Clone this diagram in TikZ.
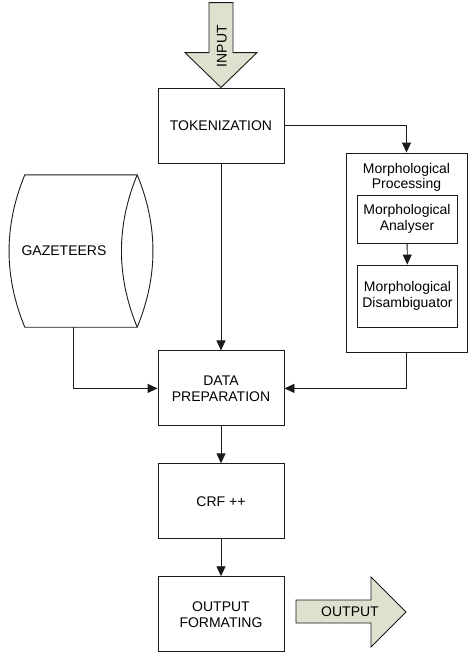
\documentclass[tikz,border=0pt]{standalone}
\usepackage{fontspec}
\setmainfont{Liberation Sans}
\usetikzlibrary{arrows.meta,positioning}
\definecolor{ink}{HTML}{1A1A1A}
\definecolor{sage}{HTML}{DDE1CD}
\tikzset{
  txt/.style={font=\fontsize{14pt}{16pt}\selectfont, align=center},
  box/.style={txt, draw=ink, fill=white, line width=0.9pt, minimum width=126pt,
              minimum height=75pt, inner sep=2pt},
  sub/.style={box, minimum width=100pt, minimum height=48pt},
  arr/.style={-{Triangle[length=10pt,width=9pt]}, line width=0.9pt, ink},
  fatarrow/.style={draw=ink, fill=sage, line width=0.9pt, line join=miter}
}
\begin{document}
\begin{tikzpicture}[x=1pt, y=-1pt, node distance=37pt]
  \useasboundingbox (0,0) rectangle (468,654);
  % main column
  \node[box] (tok) at (221,125.5) {TOKENIZATION};
  \node[box, below=187pt of tok] (prep) {DATA\\PREPARATION};
  \node[box, below=of prep] (crf) {CRF ++};
  \node[box, below=of crf] (fmt) {OUTPUT\\FORMATING};
  % morphology block
  \node[box, minimum width=121pt, minimum height=199pt,
        label={[name=morphtxt, txt, font=\fontsize{14pt}{15pt}\selectfont, anchor=north,
                inner sep=2pt, yshift=-9pt]north:Morphological\\Processing}]
        (morph) at (406.5,252.5) {};
  \node[sub] (ana) at (407,219) {Morphological\\Analyser};
  \node[sub, minimum height=62pt] (dis) at (407.5,296) {Morphological\\Disambiguator};
  % gazetteer store
  \node[minimum width=112pt, minimum height=152pt, inner sep=0pt] (gaz) at (81,251) {};
  \draw[ink, line width=0.9pt, fill=white] (gaz.north west)
    .. controls +(-21,51) and +(-21,-51) .. (gaz.south west) -- (gaz.south east)
    .. controls +(21,-51) and +(21,51) .. (gaz.north east) -- cycle;
  \draw[ink, line width=0.9pt] (gaz.north east)
    .. controls +(-21,51) and +(-21,-51) .. (gaz.south east);
  \node[txt] (gaztxt) at ([xshift=-17pt]gaz.center) {GAZETEERS};
  % in / out
  \draw[fatarrow] (tok.north) -- ++(36,-35) -- ++(-24,0) -- ++(0,-50) -- ++(-24,0)
    -- ++(0,50) -- ++(-24,0) -- cycle;
  \node[txt, rotate=90] (input) at (222,46) {INPUT};
  \draw[fatarrow] (296,600) -- (371,600) -- (371,577) -- (406,612) -- (371,647)
    -- (371,623) -- (296,623) -- cycle;
  \node[txt] (output) at (350,612) {OUTPUT};
  % flow
  \draw[arr] (tok) -- (prep);
  \draw[arr] (prep) -- (crf);
  \draw[arr] (crf) -- (fmt);
  \draw[arr] (tok.east) -| (morph.north);
  \draw[arr] (ana) -- (dis);
  \draw[arr] (morph.south) |- (prep.east);
  \draw[arr] ([xshift=-8pt]gaz.south) |- (prep.west);
\end{tikzpicture}
\end{document}
